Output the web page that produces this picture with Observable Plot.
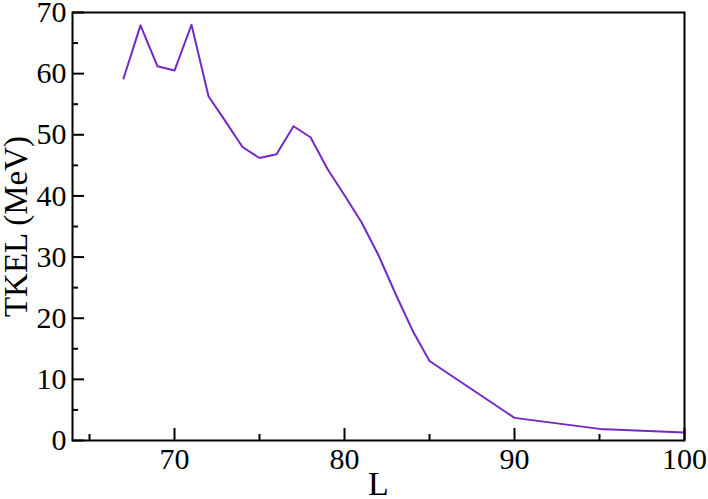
<!DOCTYPE html>
<html>
<head>
<meta charset="utf-8">
<script src="https://cdn.jsdelivr.net/npm/d3@7"></script>
<script src="https://cdn.jsdelivr.net/npm/@observablehq/plot@0.6"></script>
<style>
  html, body { margin: 0; padding: 0; background: #fff; }
  svg { display: block; overflow: visible; }
</style>
</head>
<body>
<div id="chart"></div>
<script>
const L = [67, 68, 69, 70, 71, 72, 73, 74, 75, 76, 77, 78, 79, 80, 81, 82, 83, 84, 85, 90, 95, 100];
const TKEL = [59.2, 67.9, 61.2, 60.5, 68.0, 56.3, 52.2, 48.0, 46.2, 46.8, 51.4, 49.6, 44.4, 40.1, 35.7, 30.3, 24.0, 18.0, 13.0, 3.7, 1.9, 1.3];
const xMajor = [70, 80, 90, 100];
const xMinor = [65, 75, 85, 95];
const yMajor = [0, 10, 20, 30, 40, 50, 60, 70];
const yMinor = [5, 15, 25, 35, 45, 55, 65];
const xTitle = "L";
const yTitle = "TKEL (MeV)";

const data = L.map((l, i) => ({L: l, TKEL: TKEL[i]}));
const serif = "'Liberation Serif', 'DejaVu Serif', 'Times New Roman', serif";

const chart = Plot.plot({
  width: 708,
  height: 499,
  marginLeft: 72,
  marginRight: 24,
  marginTop: 12,
  marginBottom: 59,
  style: {fontFamily: serif, background: "#fff", color: "#000", overflow: "visible"},
  x: {domain: [64, 100]},
  y: {domain: [0, 70]},
  marks: [
    Plot.line(data, {x: "L", y: "TKEL", stroke: "#7428c8", strokeWidth: 2}),
    Plot.axisX(xMajor, {tickSize: -12, strokeWidth: 2, text: null, label: null}),
    Plot.axisX(xMinor, {tickSize: -6, strokeWidth: 2, text: null, label: null}),
    Plot.axisX(xMajor, {tickSize: 0, tickPadding: 7, fontSize: 30, label: null}),
    Plot.axisY(yMajor, {tickSize: -12, strokeWidth: 2, text: null, label: null}),
    Plot.axisY(yMinor, {tickSize: -6, strokeWidth: 2, text: null, label: null}),
    Plot.axisY(yMajor, {tickSize: 0, tickPadding: 6, fontSize: 30, label: null}),
    Plot.frame({stroke: "#000", strokeWidth: 2}),
    Plot.text([xTitle], {frameAnchor: "bottom", dy: 44, lineAnchor: "middle", textAnchor: "middle", fontSize: 34, fill: "#000"}),
    Plot.text([yTitle], {frameAnchor: "left", dx: -56, rotate: -90, lineAnchor: "middle", textAnchor: "middle", fontSize: 33, fill: "#000"})
  ]
});
document.getElementById("chart").appendChild(chart);
</script>
</body>
</html>
